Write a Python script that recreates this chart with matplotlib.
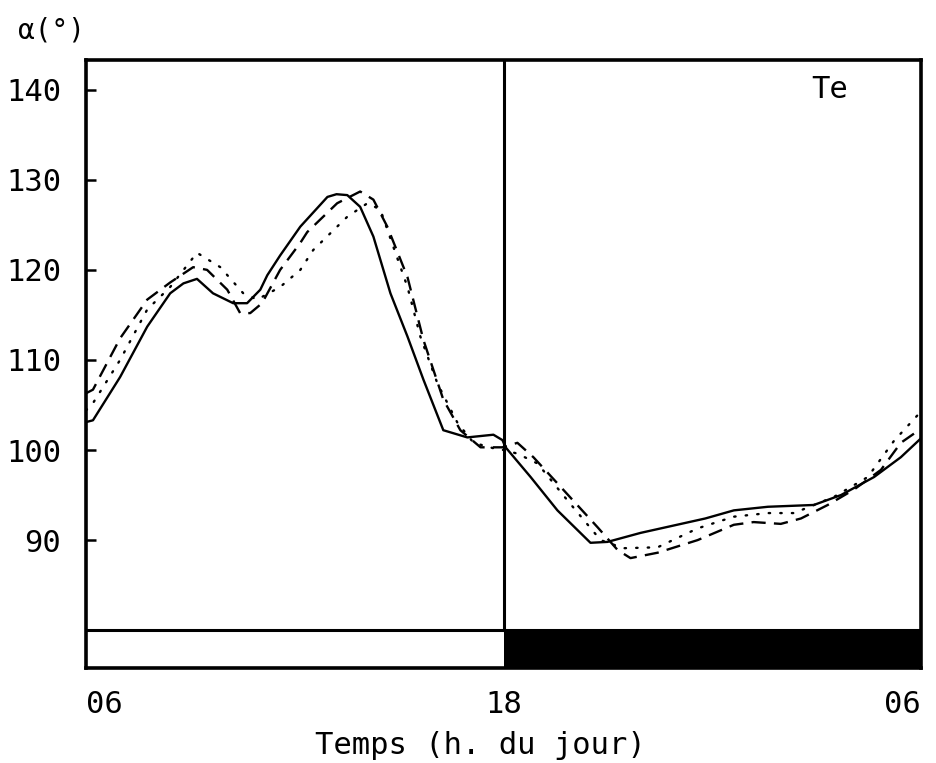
import matplotlib
matplotlib.use("Agg")
import matplotlib.pyplot as plt
from matplotlib.patches import Rectangle

# hours elapsed since 06:00
solid_h = [0.0, 0.20, 0.98, 1.76, 2.42, 2.80, 3.19, 3.65, 4.23, 4.63, 5.01, 5.21, 5.58, 6.16, 6.94, 7.20,
           7.51, 7.88, 8.26, 8.75, 9.24, 9.70, 10.27, 10.96, 11.71, 11.97, 12.06, 12.78, 13.55, 14.50,
           14.99, 15.94, 17.80, 18.62, 19.60, 20.92, 21.70, 22.65, 23.42, 24.0]
solid_v = [103.1, 103.3, 108.1, 113.7, 117.4, 118.5, 119.0, 117.4, 116.3, 116.3, 117.8, 119.4, 121.6, 124.8,
           128.1, 128.4, 128.3, 127.0, 123.7, 117.4, 112.6, 107.8, 102.2, 101.4, 101.7, 101.1, 100.3, 97.0,
           93.3, 89.7, 89.8, 90.8, 92.4, 93.3, 93.7, 93.9, 95.0, 97.0, 99.2, 101.3]

dashed_h = [0.0, 0.20, 0.98, 1.76, 2.42, 3.08, 3.48, 4.06, 4.43, 4.72, 5.06, 5.58, 6.16, 6.36, 7.22, 7.88,
            8.26, 8.66, 9.24, 9.70, 10.27, 10.76, 11.34, 11.97, 12.40, 12.86, 13.55, 14.71, 15.28, 15.65,
            16.43, 17.58, 18.62, 19.19, 19.97, 20.55, 21.32, 22.07, 22.85, 23.42, 23.94]
dashed_v = [106.3, 106.7, 112.4, 116.7, 118.6, 120.3, 120.0, 117.8, 115.2, 115.2, 116.3, 120.0, 123.0, 124.2,
            127.4, 128.7, 127.8, 124.8, 119.2, 112.2, 105.6, 102.2, 100.3, 100.3, 100.8, 99.2, 96.3, 91.4,
            88.9, 88.0, 88.6, 90.0, 91.7, 92.0, 91.8, 92.4, 93.9, 95.6, 97.8, 100.8, 102.2]

dotted_h = [0.0, 0.20, 0.98, 1.76, 2.42, 3.19, 3.86, 4.52, 4.92, 5.58, 6.16, 6.53, 7.51, 8.09, 8.46, 8.83,
            9.24, 9.61, 10.10, 10.68, 11.14, 11.71, 12.0, 12.40, 12.98, 13.84, 14.79, 15.45, 16.43, 17.58,
            18.62, 19.60, 20.35, 21.50, 22.47, 23.22, 23.91]
dotted_v = [104.4, 105.2, 110.0, 115.6, 118.1, 121.9, 120.3, 117.4, 116.7, 118.1, 120.0, 122.2, 125.9, 127.4,
            126.7, 122.6, 118.1, 112.6, 107.4, 103.0, 100.8, 100.2, 100.0, 99.6, 98.5, 94.4, 90.0, 89.1,
            89.2, 91.3, 92.6, 93.0, 93.0, 94.8, 97.0, 101.0, 103.9]

y_ticks = [90, 100, 110, 120, 130, 140]
x_ticks = [0, 12, 24]
x_labels = ["06", "18", "06"]
y_label = "α(°)"
x_title = "Temps (h. du jour)"
panel_label = "Te"

FONT = "DejaVu Sans Mono"
plt.rcParams['font.family'] = [FONT, 'DejaVu Sans']

fig = plt.figure(figsize=(9.36, 7.63), dpi=100)
ax = fig.add_axes([86/936, 1-668/763, (921-86)/936, (668-60)/763])

ymin, ymax = 75.8, 143.3
ax.set_xlim(0, 24)
ax.set_ylim(ymin, ymax)

lw = 1.7
ax.plot(solid_h, solid_v, color='black', lw=lw, ls='-', solid_joinstyle='round')
ax.plot(dashed_h, dashed_v, color='black', lw=lw, ls=(0, (6, 3.5)))
ax.plot(dotted_h, dotted_v, color='black', lw=lw, ls=(0, (0.6, 4.3)), dash_capstyle='round')

# day / night bar
ax.axhline(80.0, color='black', lw=2.2)
ax.add_patch(Rectangle((12, ymin), 12, 80.0 - ymin, facecolor='black', edgecolor='none', zorder=3))
ax.plot([12, 12], [80.0, ymax], color='black', lw=2.2)

for s in ax.spines.values():
    s.set_linewidth(2.6)

ax.set_yticks(y_ticks)
ax.set_yticklabels([str(t) for t in y_ticks], fontsize=22, family=FONT)
ax.tick_params(axis='y', direction='in', length=7, width=1.8, pad=18)

ax.set_xticks(x_ticks)
ax.set_xticklabels(x_labels, fontsize=22, family=FONT)
ax.tick_params(axis='x', length=0, pad=16)
xl = ax.get_xticklabels()
xl[0].set_ha('left')
xl[2].set_ha('right')

fig.text(480/936, 1-745/763, x_title, fontsize=22, family=FONT, ha='center', va='center')
fig.text(18/936, 1-30/763, y_label, fontsize=20, family=FONT, ha='left', va='center')
ax.text(0.89, 0.952, panel_label, transform=ax.transAxes, fontsize=22, family=FONT,
        ha='center', va='center')

fig.savefig("out.png", dpi=100)
